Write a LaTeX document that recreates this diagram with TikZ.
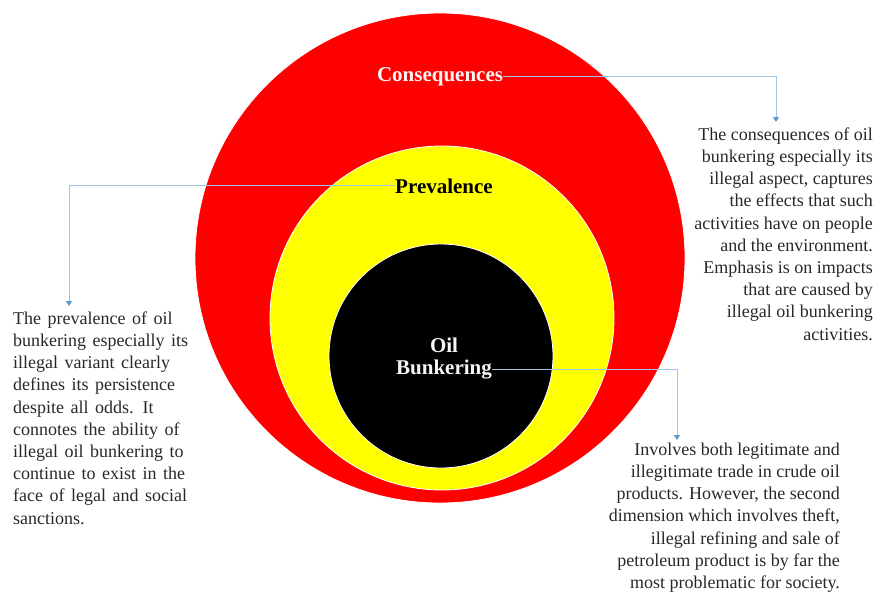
\documentclass[tikz,border=0pt]{standalone}
\usepackage{fontspec}
\setmainfont{Liberation Serif}
\usetikzlibrary{arrows.meta}
\definecolor{ringred}{RGB}{254,0,0}
\definecolor{ringyellow}{RGB}{255,255,0}
\definecolor{linkblue}{RGB}{157,195,230}
\definecolor{tipblue}{RGB}{91,155,213}
\definecolor{bodygray}{RGB}{40,40,40}
\definecolor{labelwhite}{RGB}{245,245,245}
\begin{document}
\begin{tikzpicture}[x=1pt,y=-1pt,
  ring/.style={circle,draw=white,line width=0.8pt,inner sep=0pt},
  ringlabel/.style={font=\fontsize{21}{23}\selectfont\bfseries,inner sep=0pt,anchor=base},
  body/.style={font=\fontsize{18}{22.2}\selectfont,text=bodygray,inner sep=0pt},
  link/.style={draw=linkblue,line width=0.9pt,-{Triangle[width=6pt,length=5pt,fill=tipblue,color=tipblue]}}
]
\useasboundingbox (0,0) rectangle (882,592);
% rings
\node[ring,fill=ringred,minimum size=490pt] (outer) at (440,258) {};
\node[ring,fill=ringyellow,minimum size=344pt] (middle) at (442,318) {};
\node[ring,fill=black,minimum size=224pt] (inner) at (441,356) {};
% ring labels
\node[ringlabel,text=labelwhite] (cons) at (440,81) {Consequences};
\node[ringlabel,text=black] (prev) at (444,193) {Prevalence};
\node[ringlabel,text=labelwhite] (oil) at (444,352) {Oil};
\node[ringlabel,text=labelwhite] (bunk) at (444,374) {Bunkering};
% text blocks
\node[body,anchor=north east,align=right] (tcons) at (873,127.5) {The consequences of oil\\
bunkering especially its\\
illegal aspect, captures\\
the effects that such\\
activities have on people\\
and the environment.\\
Emphasis is on impacts\\
that are caused by\\
illegal oil bunkering\\
activities.};
\node[body,anchor=north west,align=left,text width=205pt] (tprev) at (13,311.5) {\spaceskip=6.5pt\relax The prevalence of oil\\
bunkering especially its\\
illegal variant clearly\\
defines its persistence\\
despite all odds. It\\
connotes the ability of\\
illegal oil bunkering to\\
continue to exist in the\\
face of legal and social\\
sanctions.};
\node[body,anchor=north east,align=right] (tbunk) at (840,442.5) {Involves both legitimate and\\
illegitimate trade in crude oil\\
products. However, the second\\
dimension which involves theft,\hspace*{10pt}\\
illegal refining and sale of\\
petroleum product is by far the\\
most problematic for society.};
% connectors
\coordinate (c1) at (776,122);
\coordinate (c2) at (69,306);
\coordinate (c3) at (677,440);
\draw[link] (cons.east) -| (c1);
\draw[link] (prev.west) -| (c2);
\draw[link] (bunk.east) -| (c3);
\end{tikzpicture}
\end{document}
